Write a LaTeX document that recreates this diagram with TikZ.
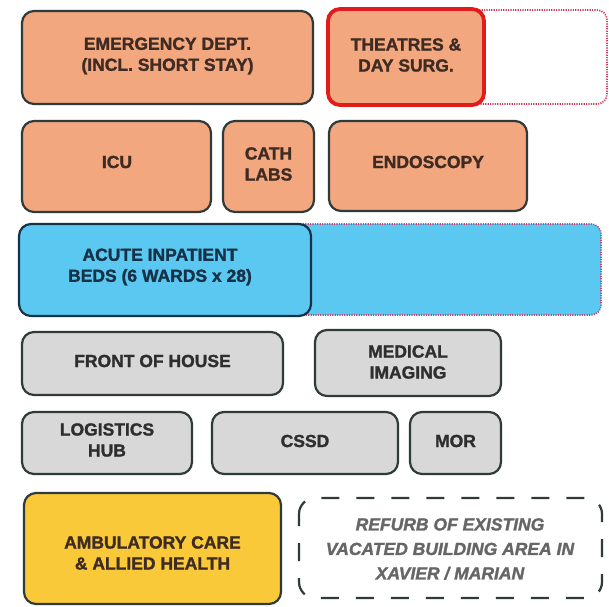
\documentclass[tikz,border=0pt]{standalone}
\usepackage{fontspec}
\setmainfont[FakeBold=1.5]{Liberation Sans}
\newfontfamily\reffont[FakeBold=1.5]{Liberation Sans Italic}
\definecolor{orangefill}{HTML}{F3A77F}
\definecolor{bluefill}{HTML}{5BC8F1}
\definecolor{greyfill}{HTML}{D8D8D8}
\definecolor{yellowfill}{HTML}{F9C93A}
\definecolor{edge}{HTML}{2F3A3A}
\definecolor{rededge}{HTML}{E21B1B}
\definecolor{dotred}{HTML}{D23C5A}
\definecolor{dotpink}{HTML}{B8507E}
\definecolor{txtbrown}{HTML}{3E2C24}
\definecolor{txtblue}{HTML}{173247}
\definecolor{txtgrey}{HTML}{2E2E2E}
\definecolor{refgrey}{HTML}{666666}
\begin{document}
\begin{tikzpicture}[x=1pt,y=-1pt,
  box/.style={draw=edge,line width=2.2pt,rounded corners=12pt},
  lbl/.style={align=center,font=\fontsize{17.5}{21}\bfseries\selectfont,inner sep=0pt},
  ext/.style={line width=1.7pt,dash pattern=on 1.2pt off 1.2pt,rounded corners=10pt}]
\useasboundingbox (0,0) rectangle (609,606);
\fill[white] (0,0) rectangle (609,606);
% extensions
\draw[ext,draw=dotred] (440,10) rectangle (607,104);
\draw[ext,draw=dotpink,fill=bluefill] (260,224) rectangle (601,315);
% row 1
\draw[box,fill=orangefill] (22,11) rectangle (313,104);
\node[lbl,text=txtbrown] (ed) at (167.5,56) {EMERGENCY DEPT.\\(INCL. SHORT STAY)};
\draw[box,fill=orangefill,draw=rededge,line width=3.8pt] (328,9) rectangle (484,105);
\node[lbl,text=txtbrown] (th) at (406,55) {THEATRES \&\\DAY SURG.};
% row 2
\draw[box,fill=orangefill] (22,121) rectangle (211,212);
\node[lbl,text=txtbrown] (icu) at (117,162) {ICU};
\draw[box,fill=orangefill] (223,121) rectangle (314,212);
\node[lbl,text=txtbrown] (cath) at (268.5,164) {CATH\\LABS};
\draw[box,fill=orangefill] (329,121) rectangle (527,211);
\node[lbl,text=txtbrown] (endo) at (428,162) {ENDOSCOPY};
% row 3
\draw[box,fill=bluefill,draw=txtblue] (19,224) rectangle (311,316);
\node[lbl,text=txtblue] (acute) at (160,267) {ACUTE INPATIENT\\BEDS (6 WARDS x 28)};
% row 4
\draw[box,fill=greyfill] (22,332) rectangle (283,395);
\node[lbl,text=txtgrey] (foh) at (152.5,361) {FRONT OF HOUSE};
\draw[box,fill=greyfill] (315,330) rectangle (501,396);
\node[lbl,text=txtgrey] (mi) at (408,362) {MEDICAL\\IMAGING};
% row 5
\draw[box,fill=greyfill] (22,412) rectangle (192,474);
\node[lbl,text=txtgrey] (log) at (107,440) {LOGISTICS\\HUB};
\draw[box,fill=greyfill] (212,412) rectangle (398,474);
\node[lbl,text=txtgrey] (cssd) at (305,441) {CSSD};
\draw[box,fill=greyfill] (410,412) rectangle (501,474);
\node[lbl,text=txtgrey] (mor) at (455.5,441) {MOR};
% row 6
\draw[box,fill=yellowfill] (24,493) rectangle (281,604);
\node[lbl,text=txtbrown] (amb) at (152.5,553) {AMBULATORY CARE\\\& ALLIED HEALTH};
\draw[draw=edge,line width=2.2pt,rounded corners=16pt,dash pattern=on 18pt off 17pt,dash phase=6pt] (299,498) rectangle (602,598);
\node[lbl,text=refgrey,font=\fontsize{17.5}{24.5}\reffont\bfseries\selectfont] (ref) at (450,549) {REFURB OF EXISTING\\VACATED BUILDING AREA IN\\XAVIER / MARIAN};
\end{tikzpicture}
\end{document}
